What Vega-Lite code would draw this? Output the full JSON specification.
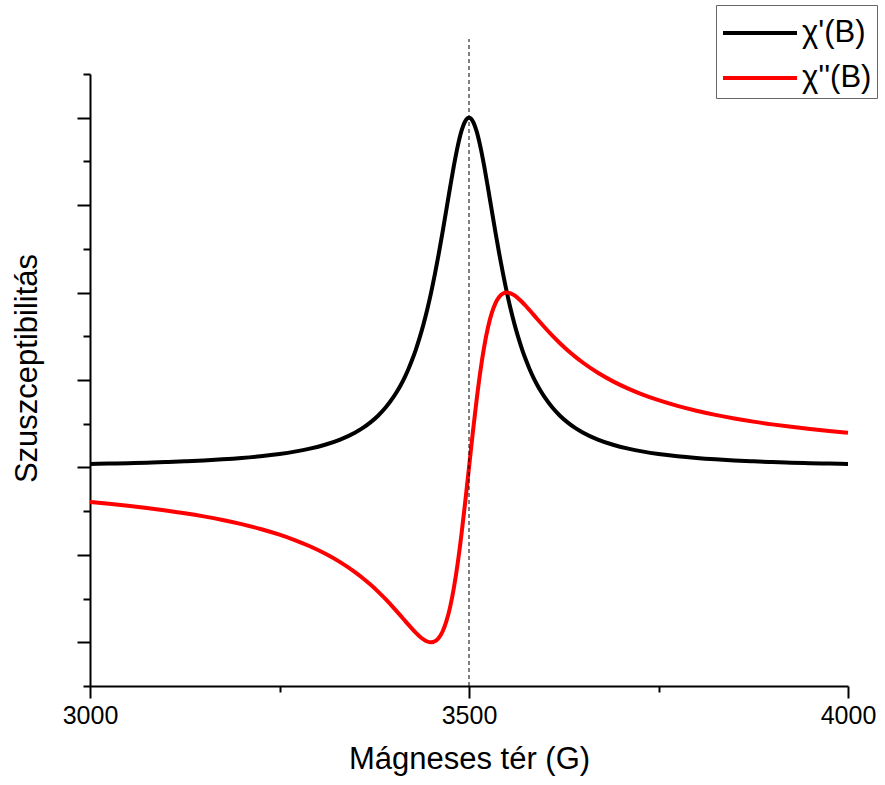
{
  "$schema": "https://vega.github.io/schema/vega-lite/v6.json",
  "width": 758,
  "height": 612,
  "autosize": "none",
  "padding": {"left": 90, "top": 74, "right": 37, "bottom": 99},
  "background": "white",
  "config": {
    "view": {"stroke": null},
    "font": "Liberation Sans"
  },
  "data": {
    "values": [
      {"B": 3000, "c1": 0.0396, "c2": -0.3960},
      {"B": 3025, "c1": 0.0438, "c2": -0.4164},
      {"B": 3050, "c1": 0.0488, "c2": -0.4390},
      {"B": 3075, "c1": 0.0546, "c2": -0.4642},
      {"B": 3100, "c1": 0.0615, "c2": -0.4923},
      {"B": 3125, "c1": 0.0699, "c2": -0.5240},
      {"B": 3150, "c1": 0.0800, "c2": -0.5600},
      {"B": 3175, "c1": 0.0925, "c2": -0.6012},
      {"B": 3200, "c1": 0.1081, "c2": -0.6486},
      {"B": 3225, "c1": 0.1280, "c2": -0.7040},
      {"B": 3250, "c1": 0.1538, "c2": -0.7692},
      {"B": 3270, "c1": 0.1805, "c2": -0.8303},
      {"B": 3290, "c1": 0.2146, "c2": -0.9013},
      {"B": 3310, "c1": 0.2591, "c2": -0.9845},
      {"B": 3330, "c1": 0.3185, "c2": -1.0828},
      {"B": 3350, "c1": 0.4000, "c2": -1.2000},
      {"B": 3360, "c1": 0.4525, "c2": -1.2670},
      {"B": 3370, "c1": 0.5155, "c2": -1.3402},
      {"B": 3380, "c1": 0.5917, "c2": -1.4201},
      {"B": 3390, "c1": 0.6849, "c2": -1.5068},
      {"B": 3400, "c1": 0.8000, "c2": -1.6000},
      {"B": 3405, "c1": 0.8677, "c2": -1.6486},
      {"B": 3410, "c1": 0.9434, "c2": -1.6981},
      {"B": 3415, "c1": 1.0283, "c2": -1.7481},
      {"B": 3420, "c1": 1.1236, "c2": -1.7978},
      {"B": 3425, "c1": 1.2308, "c2": -1.8462},
      {"B": 3430, "c1": 1.3514, "c2": -1.8919},
      {"B": 3435, "c1": 1.4870, "c2": -1.9331},
      {"B": 3440, "c1": 1.6393, "c2": -1.9672},
      {"B": 3445, "c1": 1.8100, "c2": -1.9910},
      {"B": 3450, "c1": 2.0000, "c2": -2.0000},
      {"B": 3455, "c1": 2.2099, "c2": -1.9890},
      {"B": 3460, "c1": 2.4390, "c2": -1.9512},
      {"B": 3465, "c1": 2.6846, "c2": -1.8792},
      {"B": 3470, "c1": 2.9412, "c2": -1.7647},
      {"B": 3475, "c1": 3.2000, "c2": -1.6000},
      {"B": 3480, "c1": 3.4483, "c2": -1.3793},
      {"B": 3485, "c1": 3.6697, "c2": -1.1009},
      {"B": 3490, "c1": 3.8462, "c2": -0.7692},
      {"B": 3495, "c1": 3.9604, "c2": -0.3960},
      {"B": 3500, "c1": 4.0000, "c2": 0.0000},
      {"B": 3505, "c1": 3.9604, "c2": 0.3960},
      {"B": 3510, "c1": 3.8462, "c2": 0.7692},
      {"B": 3515, "c1": 3.6697, "c2": 1.1009},
      {"B": 3520, "c1": 3.4483, "c2": 1.3793},
      {"B": 3525, "c1": 3.2000, "c2": 1.6000},
      {"B": 3530, "c1": 2.9412, "c2": 1.7647},
      {"B": 3535, "c1": 2.6846, "c2": 1.8792},
      {"B": 3540, "c1": 2.4390, "c2": 1.9512},
      {"B": 3545, "c1": 2.2099, "c2": 1.9890},
      {"B": 3550, "c1": 2.0000, "c2": 2.0000},
      {"B": 3555, "c1": 1.8100, "c2": 1.9910},
      {"B": 3560, "c1": 1.6393, "c2": 1.9672},
      {"B": 3565, "c1": 1.4870, "c2": 1.9331},
      {"B": 3570, "c1": 1.3514, "c2": 1.8919},
      {"B": 3575, "c1": 1.2308, "c2": 1.8462},
      {"B": 3580, "c1": 1.1236, "c2": 1.7978},
      {"B": 3585, "c1": 1.0283, "c2": 1.7481},
      {"B": 3590, "c1": 0.9434, "c2": 1.6981},
      {"B": 3595, "c1": 0.8677, "c2": 1.6486},
      {"B": 3600, "c1": 0.8000, "c2": 1.6000},
      {"B": 3610, "c1": 0.6849, "c2": 1.5068},
      {"B": 3620, "c1": 0.5917, "c2": 1.4201},
      {"B": 3630, "c1": 0.5155, "c2": 1.3402},
      {"B": 3640, "c1": 0.4525, "c2": 1.2670},
      {"B": 3650, "c1": 0.4000, "c2": 1.2000},
      {"B": 3670, "c1": 0.3185, "c2": 1.0828},
      {"B": 3690, "c1": 0.2591, "c2": 0.9845},
      {"B": 3710, "c1": 0.2146, "c2": 0.9013},
      {"B": 3730, "c1": 0.1805, "c2": 0.8303},
      {"B": 3750, "c1": 0.1538, "c2": 0.7692},
      {"B": 3775, "c1": 0.1280, "c2": 0.7040},
      {"B": 3800, "c1": 0.1081, "c2": 0.6486},
      {"B": 3825, "c1": 0.0925, "c2": 0.6012},
      {"B": 3850, "c1": 0.0800, "c2": 0.5600},
      {"B": 3875, "c1": 0.0699, "c2": 0.5240},
      {"B": 3900, "c1": 0.0615, "c2": 0.4923},
      {"B": 3925, "c1": 0.0546, "c2": 0.4642},
      {"B": 3950, "c1": 0.0488, "c2": 0.4390},
      {"B": 3975, "c1": 0.0438, "c2": 0.4164},
      {"B": 4000, "c1": 0.0396, "c2": 0.3960}
    ]
  },
  "layer": [
    {
      "transform": [{"fold": ["c1", "c2"], "as": ["series", "value"]}],
      "mark": {"type": "line", "strokeWidth": 4, "interpolate": "monotone", "clip": false},
      "encoding": {
        "x": {
          "field": "B",
          "type": "quantitative",
          "scale": {"domain": [3000, 4000], "nice": false, "zero": false},
          "axis": {
            "title": "Mágneses tér (G)",
            "titleFontSize": 31,
            "titleFontWeight": "normal",
            "titleColor": "black",
            "titlePadding": 16,
            "values": [3000, 3250, 3500, 3750, 4000],
            "labelExpr": "datum.value % 500 === 0 ? datum.label : ''",
            "format": "d",
            "labelFontSize": 25,
            "labelColor": "black",
            "labelPadding": 5,
            "labelDx": 5,
            "labelFlush": false,
            "labelOverlap": false,
            "grid": false,
            "domainColor": "black",
            "domainWidth": 2,
            "tickColor": "black",
            "tickWidth": 2,
            "tickSize": {"condition": {"test": "datum.value % 500 !== 0", "value": 6}, "value": 12}
          }
        },
        "y": {
          "field": "value",
          "type": "quantitative",
          "scale": {"domain": [-2.5, 4.5], "nice": false, "zero": false},
          "axis": {
            "title": "Szuszceptibilitás",
            "titleFontSize": 31,
            "titleFontWeight": "normal",
            "titleColor": "black",
            "titlePadding": 33,
            "titleY": 294,
            "values": [-2.5, -2, -1.5, -1, -0.5, 0, 0.5, 1, 1.5, 2, 2.5, 3, 3.5, 4, 4.5],
            "labels": false,
            "grid": false,
            "domainColor": "black",
            "domainWidth": 2,
            "tickColor": "black",
            "tickWidth": 2,
            "tickSize": {"condition": {"test": "datum.value % 1 !== 0", "value": 7}, "value": 13}
          }
        },
        "color": {
          "field": "series",
          "type": "nominal",
          "scale": {"domain": ["c1", "c2"], "range": ["black", "#ff0000"]},
          "legend": {
            "title": null,
            "orient": "none",
            "legendX": 626,
            "legendY": -69,
            "labelExpr": "datum.label == 'c1' ? \"χ'(B)\" : \"χ''(B)\"",
            "labelFontSize": 31,
            "labelColor": "black",
            "symbolType": "M-1.762,0H1.762",
            "symbolSize": 1764,
            "symbolStrokeWidth": 4,
            "symbolOffset": 16,
            "labelOffset": 19,
            "rowPadding": 7,
            "strokeColor": "#666666",
            "padding": 5,
            "cornerRadius": 0
          }
        }
      }
    },
    {
      "data": {"values": [{"B": 3500, "lo": -2.5, "hi": 4.9}]},
      "mark": {"type": "rule", "strokeDash": [4, 3], "strokeWidth": 1, "color": "black", "clip": false},
      "encoding": {
        "x": {"field": "B", "type": "quantitative"},
        "y": {"field": "lo", "type": "quantitative"},
        "y2": {"field": "hi"}
      }
    }
  ]
}
